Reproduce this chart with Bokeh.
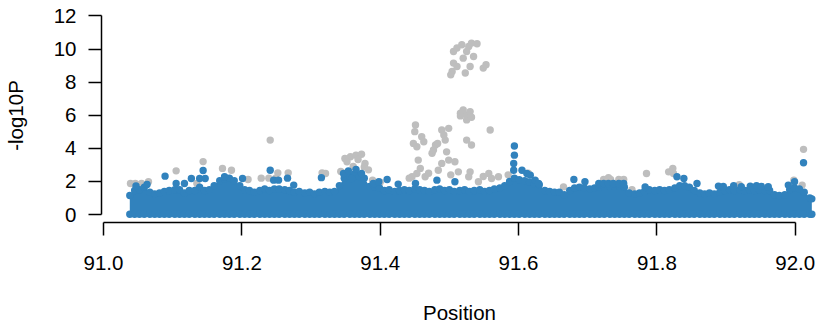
from bokeh.plotting import figure
from bokeh.models import Range1d, FixedTicker
from bokeh.embed import file_html
from bokeh.resources import INLINE

# ---------------- data ----------------
x_ticks = [91.0, 91.2, 91.4, 91.6, 91.8, 92.0]
x_tick_labels = ["91.0", "91.2", "91.4", "91.6", "91.8", "92.0"]
y_ticks = [0, 2, 4, 6, 8, 10, 12]
y_tick_labels = ["0", "2", "4", "6", "8", "10", "12"]

# dense band of SNPs (blue): position and upper envelope of -log10P
band_pos = [91.038, 91.045, 91.052, 91.059, 91.067, 91.074, 91.081, 91.088, 91.095, 91.103,
            91.110, 91.117, 91.124, 91.132, 91.139, 91.146, 91.153, 91.160, 91.168, 91.175,
            91.182, 91.189, 91.197, 91.204, 91.211, 91.218, 91.226, 91.233, 91.240, 91.247,
            91.254, 91.262, 91.269, 91.276, 91.283, 91.291, 91.298, 91.305, 91.312, 91.320,
            91.327, 91.334, 91.341, 91.348, 91.356, 91.363, 91.370, 91.377, 91.385, 91.392,
            91.399, 91.406, 91.413, 91.421, 91.428, 91.435, 91.442, 91.450, 91.457, 91.464,
            91.471, 91.479, 91.486, 91.493, 91.500, 91.507, 91.515, 91.522, 91.529, 91.536,
            91.544, 91.551, 91.558, 91.565, 91.573, 91.580, 91.587, 91.594, 91.601, 91.609,
            91.616, 91.623, 91.630, 91.638, 91.645, 91.652, 91.659, 91.666, 91.674, 91.681,
            91.688, 91.695, 91.703, 91.710, 91.717, 91.724, 91.732, 91.739, 91.746, 91.753,
            91.760, 91.768, 91.775, 91.782, 91.789, 91.797, 91.804, 91.811, 91.818, 91.826,
            91.833, 91.840, 91.847, 91.854, 91.862, 91.869, 91.876, 91.883, 91.891, 91.898,
            91.905, 91.912, 91.920, 91.927, 91.934, 91.941, 91.948, 91.956, 91.963, 91.970,
            91.977, 91.985, 91.992, 91.999, 92.006, 92.013, 92.021, 92.024]
band_top = [1.15, 1.45, 1.5, 1.65, 1.35, 1.25, 1.3, 1.4, 1.45, 1.5,
            1.5, 1.3, 1.45, 1.45, 1.65, 1.45, 1.5, 1.75, 2.05, 2.15,
            2.2, 2.05, 1.75, 1.5, 1.45, 1.35, 1.45, 1.55, 1.45, 1.55,
            1.55, 1.5, 1.45, 1.35, 1.4, 1.3, 1.35, 1.25, 1.35, 1.4,
            1.35, 1.4, 1.75, 2.2, 2.35, 2.45, 2.3, 2.2, 1.7, 1.65,
            1.6, 1.45, 1.5, 1.4, 1.45, 1.5, 1.45, 1.55, 1.5, 1.45,
            1.4, 1.5, 1.55, 1.45, 1.5, 1.4, 1.45, 1.5, 1.4, 1.45,
            1.5, 1.4, 1.45, 1.55, 1.6, 1.75, 2.0, 2.2, 2.1, 2.05,
            1.95, 1.85, 1.8, 1.45, 1.4, 1.35, 1.35, 1.2, 1.45, 1.6,
            1.65, 1.6, 1.55, 1.6, 1.65, 1.7, 1.7, 1.7, 1.7, 1.65,
            1.3, 1.25, 1.3, 1.4, 1.5, 1.45, 1.5, 1.45, 1.5, 1.6,
            1.75, 1.75, 1.65, 1.45, 1.3, 1.25, 1.3, 1.25, 1.35, 1.45,
            1.5, 1.45, 1.5, 1.45, 1.5, 1.45, 1.5, 1.45, 1.45, 1.2,
            1.15, 1.2, 1.5, 1.6, 1.55, 1.35, 1.0, 0.95]
band_floor = 0.02

# blue SNPs standing above the band
blue_pos = [91.047, 91.063, 91.089, 91.105, 91.117, 91.127, 91.144, 91.139, 91.147, 91.175,
            91.201, 91.241, 91.246, 91.253, 91.266, 91.275, 91.315, 91.347, 91.354, 91.365,
            91.373, 91.359, 91.390, 91.398, 91.410, 91.426, 91.451, 91.482, 91.508, 91.594,
            91.594, 91.593, 91.593, 91.605, 91.612, 91.624, 91.617, 91.629, 91.680, 91.696,
            91.716, 91.723, 91.730, 91.737, 91.745, 91.752, 91.783, 91.829, 91.839, 91.858,
            91.889, 91.896, 91.911, 91.922, 91.935, 91.944, 91.951, 91.961, 91.990, 91.999,
            92.012]
blue_logp = [1.73, 1.82, 2.32, 1.88, 1.88, 2.18, 2.66, 2.18, 2.18, 2.28,
             2.18, 2.68, 2.08, 2.08, 2.2, 1.78, 2.23, 2.48, 2.64, 2.73,
             2.48, 2.18, 1.88, 1.98, 2.12, 1.84, 1.88, 2.08, 1.98, 4.14,
             3.59, 3.09, 2.68, 2.68, 2.48, 2.08, 2.38, 1.88, 2.12, 1.98,
             1.88, 1.88, 1.88, 1.88, 1.88, 1.88, 1.67, 2.28, 2.18, 1.88,
             1.72, 1.70, 1.74, 1.69, 1.72, 1.75, 1.70, 1.68, 1.78, 1.98,
             3.13]

# grey SNPs (drawn underneath the blue ones)
gray_pos = [91.039, 91.046, 91.055, 91.065, 91.105, 91.135, 91.144, 91.172, 91.185, 91.209,
            91.228, 91.239, 91.249, 91.241, 91.252, 91.267, 91.316, 91.321, 91.349, 91.357,
            91.365, 91.373, 91.378, 91.368, 91.352, 91.377, 91.343, 91.361, 91.383, 91.389,
            91.400, 91.446, 91.451, 91.450, 91.448, 91.453, 91.460, 91.463, 91.455, 91.458,
            91.453, 91.465, 91.475, 91.477, 91.480, 91.483, 91.489, 91.492, 91.499, 91.494,
            91.496, 91.499, 91.508, 91.489, 91.484, 91.513, 91.525, 91.532, 91.530, 91.528,
            91.542, 91.559, 91.557, 91.561, 91.571, 91.518, 91.528, 91.506, 91.511, 91.518,
            91.528, 91.532, 91.540, 91.525, 91.535, 91.520, 91.506, 91.511, 91.504, 91.502,
            91.523, 91.530, 91.549, 91.553, 91.516, 91.520, 91.525, 91.530, 91.525, 91.532,
            91.516, 91.442, 91.470, 91.502, 91.549, 91.585, 91.614, 91.723, 91.733, 91.745,
            91.752, 91.730, 91.764, 91.785, 91.817, 91.823, 91.824, 91.919, 91.998, 92.010,
            92.012, 91.665]
gray_logp = [1.88, 1.88, 1.88, 1.98, 2.64, 1.88, 3.2, 2.79, 2.68, 2.12,
             2.2, 2.2, 2.2, 4.5, 2.52, 2.52, 2.52, 2.48, 3.39, 3.49,
             3.59, 3.64, 3.09, 3.33, 3.19, 2.88, 2.6, 2.9, 2.7, 2.08,
             1.95, 2.28, 5.41, 5.01, 4.30, 4.10, 4.70, 4.40, 3.29, 2.79,
             2.48, 2.28, 3.70, 3.90, 4.20, 4.30, 5.11, 4.81, 5.21, 4.50,
             3.79, 3.29, 3.19, 3.09, 2.68, 2.58, 4.50, 4.20, 2.58, 2.28,
             1.98, 5.11, 2.48, 2.18, 2.28, 6.12, 5.92, 9.85, 10.06, 10.26,
             10.16, 10.36, 10.32, 9.85, 9.55, 9.45, 9.15, 8.95, 8.64, 8.44,
             8.55, 8.95, 8.85, 9.05, 6.12, 6.32, 6.02, 6.22, 5.72, 5.88,
             5.96, 2.2, 2.5, 2.4, 2.3, 2.4, 2.5, 2.12, 2.12, 2.12,
             2.12, 2.22, 1.5, 2.48, 2.58, 2.79, 2.48, 1.8, 2.08, 1.78,
             3.94, 1.67]

# ---------------- styling ----------------
BLUE = "#3182BD"
GRAY = "#BEBEBE"
FONT = "Liberation Sans"
FSIZE = "20.5px"
DOT = 7.4

p = figure(frame_width=716, frame_height=214,
           min_border_left=95, min_border_right=0, min_border_top=8, min_border_bottom=0,
           x_range=Range1d(90.9971, 92.0322), y_range=Range1d(-0.48, 12.45),
           output_backend="svg", toolbar_location=None)

p.outline_line_color = None
p.grid.visible = False
p.background_fill_color = "white"
p.border_fill_color = "white"

# grey points first
p.scatter(gray_pos, gray_logp, size=DOT, fill_color=GRAY, line_color=None)

# blue dense band
floor_vals = [band_floor for _ in band_pos]
p.varea(x=band_pos, y1=floor_vals, y2=band_top, fill_color=BLUE)
p.scatter(band_pos, band_top, size=DOT, fill_color=BLUE, line_color=None)
p.scatter(band_pos, floor_vals, size=DOT, fill_color=BLUE, line_color=None)
p.scatter(blue_pos, blue_logp, size=DOT, fill_color=BLUE, line_color=None)

for ax in (p.xaxis[0], p.yaxis[0]):
    ax.axis_line_width = 1.5
    ax.axis_line_color = "black"
    ax.major_tick_line_width = 1.5
    ax.major_tick_line_color = "black"
    ax.major_tick_out = 13
    ax.major_tick_in = 0
    ax.minor_tick_out = 0
    ax.minor_tick_in = 0
    ax.major_label_text_font = FONT
    ax.major_label_text_font_size = FSIZE
    ax.major_label_text_color = "black"
    ax.axis_label_text_font = FONT
    ax.axis_label_text_font_size = FSIZE
    ax.axis_label_text_font_style = "normal"
    ax.axis_label_text_color = "black"

xa = p.xaxis[0]
xa.bounds = (x_ticks[0], x_ticks[-1])
xa.ticker = FixedTicker(ticks=x_ticks)
xa.major_label_overrides = {t: l for t, l in zip(x_ticks, x_tick_labels)}
xa.major_label_standoff = 20
xa.axis_label = "Position"
xa.axis_label_standoff = 28

ya = p.yaxis[0]
ya.bounds = (y_ticks[0], y_ticks[-1])
ya.ticker = FixedTicker(ticks=y_ticks)
ya.major_label_overrides = {t: l for t, l in zip(y_ticks, y_tick_labels)}
ya.major_label_standoff = 12
ya.major_label_orientation = "horizontal"
ya.axis_label = "-log10P"
ya.axis_label_standoff = 24

open("out.html", "w").write(file_html(p, INLINE))
